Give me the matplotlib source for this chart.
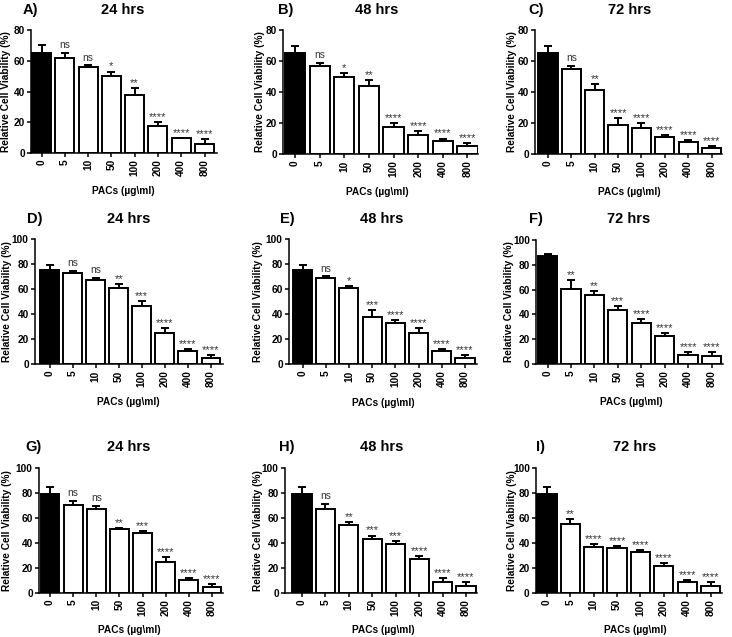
import matplotlib
matplotlib.use('Agg')
import matplotlib.pyplot as plt
import numpy as np

plt.rcParams['font.family'] = ['Liberation Sans', 'DejaVu Sans']

# ---------------- data ----------------
concentrations = ['0', '5', '10', '50', '100', '200', '400', '800']
panel_letters = ['A)', 'B)', 'C)', 'D)', 'E)', 'F)', 'G)', 'H)', 'I)']
panel_times = ['24 hrs', '48 hrs', '72 hrs', '24 hrs', '48 hrs', '72 hrs', '24 hrs', '48 hrs', '72 hrs']
x_label = 'PACs (µg\\ml)'
y_label = 'Relative Cell Viability (%)'

means_A = [65, 62, 56, 50, 37.5, 17.5, 9.5, 6]
err_A = [5, 3, 1, 3, 4.5, 2.5, 0.5, 3]
sig_A = ['', 'ns', 'ns', '*', '**', '****', '****', '****']

means_B = [65, 57, 49.5, 44, 17.5, 12.5, 8.5, 5]
err_B = [5, 2, 2.5, 4, 2.5, 2.5, 1.5, 2]
sig_B = ['', 'ns', '*', '**', '****', '****', '****', '****']

means_C = [65, 55, 41.5, 18.5, 17, 11, 7.5, 4]
err_C = [5, 2, 3.5, 4.5, 3, 1, 1.5, 1]
sig_C = ['', 'ns', '**', '****', '****', '****', '****', '****']

means_D = [75.5, 72.5, 67, 61, 46.5, 24.5, 10.5, 5]
err_D = [3.5, 2, 2, 3, 3.5, 4.5, 1.5, 2]
sig_D = ['', 'ns', 'ns', '**', '***', '****', '****', '****']

means_E = [75.5, 69, 60.5, 38, 32.5, 24.5, 10.5, 5]
err_E = [3.5, 1, 1.5, 5, 2.5, 4.5, 1.5, 2]
sig_E = ['', 'ns', '*', '***', '****', '****', '****', '****']

means_F = [87, 60.5, 55.5, 43.5, 33, 22.5, 7.5, 6.5]
err_F = [2, 7.5, 3.5, 3.5, 3, 2.5, 2.5, 3.5]
sig_F = ['', '**', '**', '***', '****', '****', '****', '****']

means_G = [79.5, 70.5, 67.5, 51, 48, 24.5, 10.5, 5]
err_G = [5.5, 3.5, 2, 1, 1.5, 4.5, 1.5, 2]
sig_G = ['', 'ns', 'ns', '**', '***', '****', '****', '****']

means_H = [79.5, 67, 54.5, 43, 39.5, 27.5, 9, 5.5]
err_H = [5.5, 4, 2.5, 3, 2, 2, 3, 3.5]
sig_H = ['', 'ns', '**', '***', '***', '****', '****', '****']

means_I = [79.5, 55.5, 37, 36, 33, 21.5, 9, 5.5]
err_I = [5.5, 3.5, 2.5, 1.5, 1.5, 2.5, 1.5, 3.5]
sig_I = ['', '**', '****', '****', '****', '****', '****', '****']

y_max = [80, 80, 80, 100, 100, 100, 100, 100, 100]
y_ticks_80 = [0, 20, 40, 60, 80]
y_ticks_100 = [0, 20, 40, 60, 80, 100]

all_means = [means_A, means_B, means_C, means_D, means_E, means_F, means_G, means_H, means_I]
all_errs = [err_A, err_B, err_C, err_D, err_E, err_F, err_G, err_H, err_I]
all_sigs = [sig_A, sig_B, sig_C, sig_D, sig_E, sig_F, sig_G, sig_H, sig_I]

# ---------------- layout (pixels) ----------------
W, H = 732, 637
# axis left, axis right, first bar centre, last bar centre, top, bottom
layouts = [
    (31, 217, 41.5, 204.5, 30, 153),
    (283, 478, 295, 467.5, 30, 154),
    (535, 722, 548, 711.5, 30, 154),
    (35, 223, 49.5, 211, 239, 364),
    (289, 477, 302.5, 465, 239, 364),
    (536, 723, 547.5, 711.5, 240, 364),
    (39, 223, 50, 212, 468, 593),
    (285, 477, 302, 466, 468, 593),
    (536, 722, 547, 710.5, 468, 593),
]
letter_right = [38, 293, 544, 42, 295, 543, 42, 295, 545]
title_cx = [123, 377, 630, 129, 382, 629, 129, 382, 635]
title_y = [10, 10, 10, 219, 219, 219, 447, 447, 447]
ylabel_x = [6, 260, 512, 7, 258, 509, 7, 258, 512]
xlabel_cx = [123, 377, 629, 128, 383, 631, 129, 383, 635]
xlabel_y = [191, 192, 192, 402, 403, 402, 630, 630, 630]

fig = plt.figure(figsize=(W / 100, H / 100), dpi=100)

def fx(px):
    return px / W

def fy(py):
    return 1 - py / H

for i in range(9):
    axL, axR, c0, c7, top, bot = layouts[i]
    pitch = (c7 - c0) / 7
    ax = fig.add_axes([fx(axL), fy(bot), (axR - axL) / W, (bot - top) / H])
    x = np.arange(len(concentrations))
    means = np.array(all_means[i])
    errs = np.array(all_errs[i])
    colors = ['black'] + ['white'] * (len(x) - 1)
    ax.bar(x, means, width=0.82, color=colors, edgecolor='black', linewidth=1.4, zorder=2)
    ax.errorbar(x, means, yerr=[np.zeros(len(x)), errs], fmt='none', ecolor='black',
                elinewidth=1.4, capsize=2.6, capthick=1.4, zorder=3)
    ax.set_xlim(-(c0 - axL) / pitch, 7 + (axR - c7) / pitch)
    ax.set_ylim(0, y_max[i])
    ax.set_xticks(x)
    ax.set_xticklabels(concentrations, rotation=90, fontsize=7.3, fontweight='bold')
    ax.set_yticks(y_ticks_80 if y_max[i] == 80 else y_ticks_100)
    for lab in ax.get_yticklabels():
        lab.set_fontsize(7.3)
        lab.set_fontweight('bold')
    for s in ['top', 'right']:
        ax.spines[s].set_visible(False)
    for s in ['left', 'bottom']:
        ax.spines[s].set_linewidth(1.1)
    ax.tick_params(length=3, width=1.1, pad=1.5)
    for j, s in enumerate(all_sigs[i]):
        if s:
            ax.annotate(s, (x[j], means[j] + errs[j]), xytext=(0, 2 if s == 'ns' else 0),
                        textcoords='offset points', ha='center', va='bottom',
                        fontsize=7.3 if s == 'ns' else 8, color='#333333',
                        annotation_clip=False)
    fig.text(fx(letter_right[i]), fy(title_y[i]), panel_letters[i], ha='right', va='center',
             fontsize=10.5, fontweight='bold')
    fig.text(fx(title_cx[i]), fy(title_y[i]), panel_times[i], ha='center', va='center',
             fontsize=10.5, fontweight='bold')
    fig.text(fx(ylabel_x[i]), fy((top + bot) / 2), y_label, rotation=90, ha='center', va='center',
             fontsize=7.3, fontweight='bold')
    fig.text(fx(xlabel_cx[i]), fy(xlabel_y[i]), x_label, ha='center', va='center',
             fontsize=7.3, fontweight='bold')

fig.savefig('out.png', dpi=100)
